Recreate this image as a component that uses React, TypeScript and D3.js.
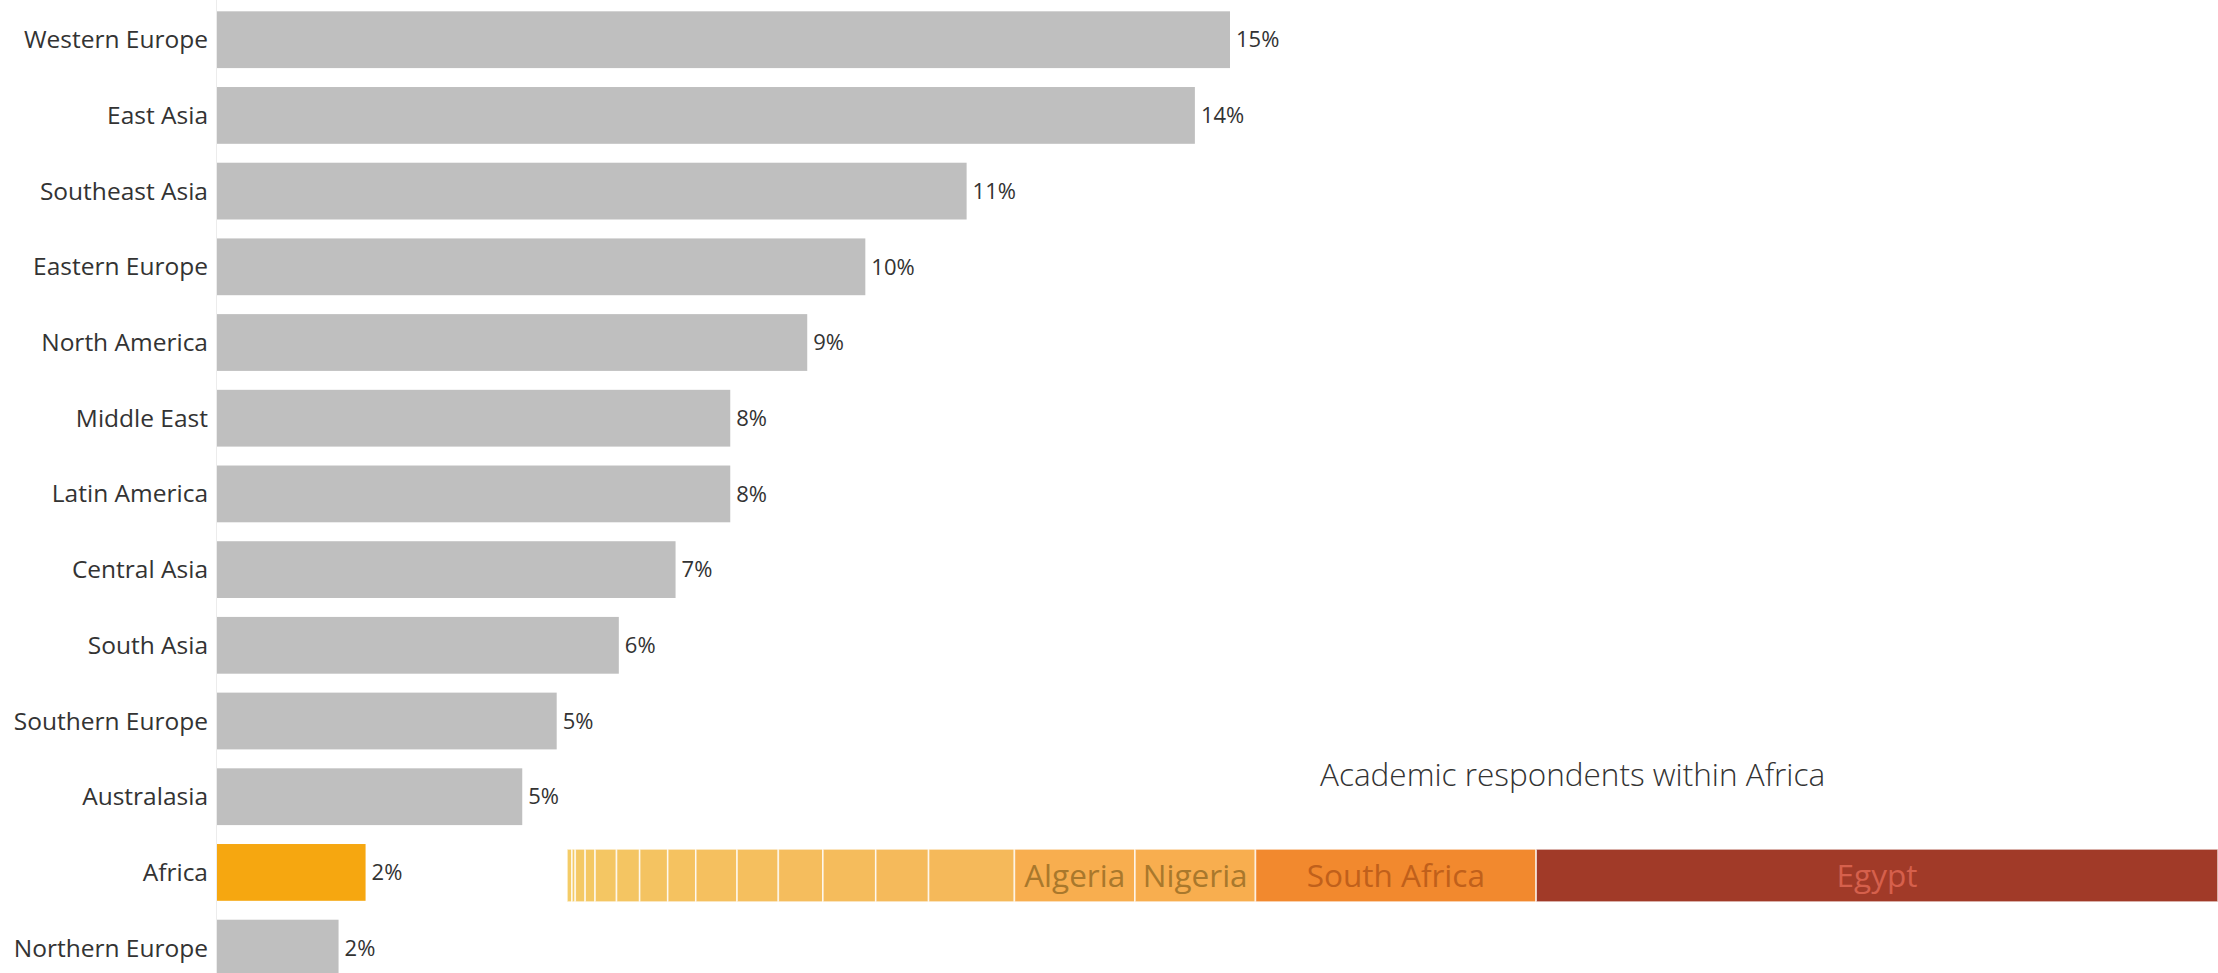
import { useEffect, useRef } from "react";
import * as d3 from "d3";

const regions = [
  "Western Europe",
  "East Asia",
  "Southeast Asia",
  "Eastern Europe",
  "North America",
  "Middle East",
  "Latin America",
  "Central Asia",
  "South Asia",
  "Southern Europe",
  "Australasia",
  "Africa",
  "Northern Europe",
];
const regionShares = [15.0, 14.48, 11.1, 9.6, 8.74, 7.6, 7.6, 6.79, 5.95, 5.03, 4.52, 2.2, 1.8];

// breakdown of the Africa bar, smallest first
const africaLabels = [
  "", "", "", "", "", "", "", "", "", "", "", "", "", "",
  "Algeria",
  "Nigeria",
  "South Africa",
  "Egypt",
];
const africaShares = [
  0.3, 0.2, 0.6, 0.6, 1.3, 1.4, 1.7, 1.7, 2.5, 2.5, 2.7, 3.2, 3.2, 5.2, 7.3, 7.3, 17.0, 41.3,
];

const W = 2218;
const H = 973;
const FONT = "'Open Sans', sans-serif";

function App() {
  const svgRef = useRef<SVGSVGElement>(null);

  useEffect(() => {
    const svgElement = svgRef.current;
    if (!svgElement) return;

    const svg = d3.select(svgElement);

    const x = d3.scaleLinear().domain([0, 15]).range([217, 1230]);
    const y = d3
      .scaleBand()
      .domain(regions)
      .range([-7.6, -7.6 + 75.7 * 13.25])
      .padding(0.25);

    const data = regions.map((r, i) => ({ label: r, value: regionShares[i] }));

    // faint baseline
    svg
      .append("line")
      .attr("x1", 216.5)
      .attr("x2", 216.5)
      .attr("y1", 0)
      .attr("y2", H)
      .attr("stroke", "#ececec")
      .attr("stroke-width", 1);

    svg
      .selectAll(".bar")
      .data(data)
      .enter()
      .append("rect")
      .attr("class", "bar")
      .attr("x", x(0))
      .attr("y", (d) => y(d.label) || 0)
      .attr("width", (d) => x(d.value) - x(0))
      .attr("height", y.bandwidth())
      .attr("fill", (d) => (d.label === "Africa" ? "#f6a710" : "#bfbfbf"));

    svg
      .selectAll(".cat")
      .data(data)
      .enter()
      .append("text")
      .attr("class", "cat")
      .attr("x", 208)
      .attr("y", (d) => (y(d.label) || 0) + y.bandwidth() / 2)
      .attr("dy", ".35em")
      .attr("text-anchor", "end")
      .style("font-family", FONT)
      .style("font-size", "24.5px")
      .style("fill", "#333")
      .text((d) => d.label);

    svg
      .selectAll(".val")
      .data(data)
      .enter()
      .append("text")
      .attr("class", "val")
      .attr("x", (d) => x(d.value) + 6)
      .attr("y", (d) => (y(d.label) || 0) + y.bandwidth() / 2)
      .attr("dy", ".35em")
      .style("font-family", FONT)
      .style("font-size", "22px")
      .style("fill", "#333")
      .text((d) => d3.format(".0f")(d.value) + "%");

    // Africa breakdown strip
    const xa = d3.scaleLinear().domain([0, 100]).range([567, W]);
    const ends = d3.cumsum(africaShares);
    const segs = africaShares.map((v, i) => ({
      label: africaLabels[i],
      start: ends[i] - v,
      end: ends[i],
      i,
    }));
    const yellow = d3.interpolateRgb("#f4cc67", "#f5b95a");
    const fillFor = (d: { label: string; i: number }) => {
      if (d.label === "Egypt") return "#a13a28";
      if (d.label === "South Africa") return "#f2892e";
      if (d.label === "Algeria" || d.label === "Nigeria") return "#f8ae4f";
      return yellow(d.i / 13);
    };
    const textFor = (d: { label: string }) => {
      if (d.label === "Egypt") return "#d6604c";
      if (d.label === "South Africa") return "#c0601b";
      return "#a9782c";
    };

    const stripTop = 849;
    const stripH = 53;

    svg
      .selectAll(".seg")
      .data(segs)
      .enter()
      .append("rect")
      .attr("class", "seg")
      .attr("x", (d) => xa(d.start))
      .attr("y", stripTop)
      .attr("width", (d) => xa(d.end) - xa(d.start))
      .attr("height", stripH)
      .attr("fill", fillFor)
      .attr("stroke", "#fff")
      .attr("stroke-opacity", 0.75)
      .attr("stroke-width", 1.6);

    svg
      .selectAll(".seglabel")
      .data(segs.filter((d) => d.label))
      .enter()
      .append("text")
      .attr("class", "seglabel")
      .attr("x", (d) => (xa(d.start) + xa(d.end)) / 2)
      .attr("y", stripTop + stripH / 2)
      .attr("dy", ".35em")
      .attr("text-anchor", "middle")
      .style("font-family", FONT)
      .style("font-size", "31.5px")
      .style("fill", textFor)
      .text((d) => d.label);

    svg
      .append("text")
      .attr("x", 1320)
      .attr("y", 786)
      .style("font-family", FONT)
      .style("font-size", "31.5px")
      .style("font-weight", 300)
      .style("fill", "#333")
      .text("Academic respondents within Africa");

    return () => {
      d3.select(svgElement).selectAll("*").remove();
    };
  }, []);

  return (
    <svg
      ref={svgRef}
      width={W}
      height={H}
      style={{ position: "fixed", left: 0, top: 0, background: "#fff" }}
    ></svg>
  );
}

export default App;
